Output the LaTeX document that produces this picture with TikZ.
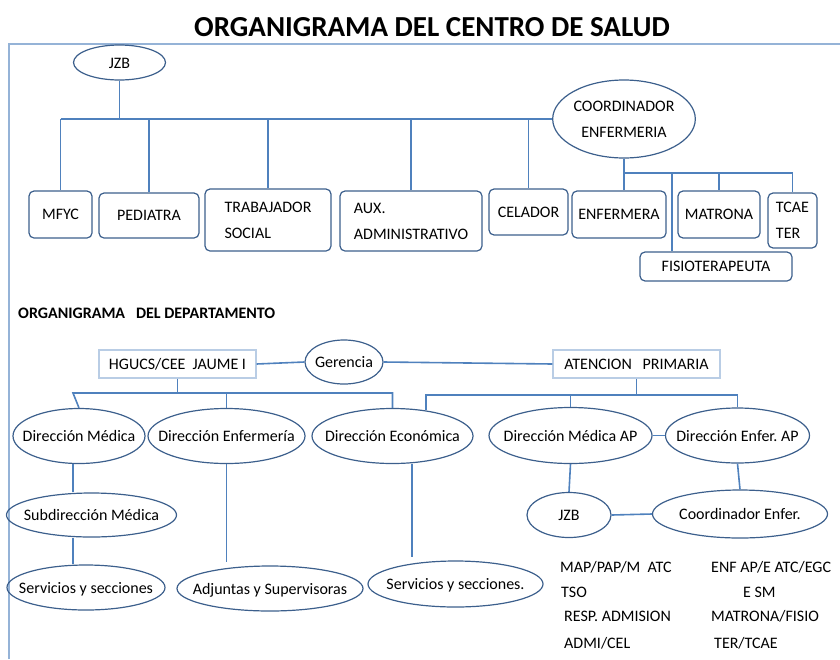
\documentclass[tikz,border=0pt]{standalone}
\usepackage{fontspec}
\setmainfont{Carlito}
\usetikzlibrary{shapes.geometric}
\definecolor{linea}{RGB}{79,129,189}
\definecolor{borde}{RGB}{60,95,140}
\definecolor{marco}{RGB}{149,179,215}
\definecolor{marcoclaro}{RGB}{185,205,229}
\newcommand{\tx}[1]{\makebox[0pt]{#1}}

\begin{document}
\begin{tikzpicture}[x=1pt, y=-1pt,
  caja/.style={rectangle, rounded corners=5pt, draw=borde, line width=1.2pt, inner sep=0pt, align=left, font=\fontsize{16}{26}\selectfont},
  elipse/.style={ellipse, draw=borde, line width=1.2pt, inner sep=0pt, text height=11pt, text depth=0pt, font=\fontsize{16}{19}\selectfont},
  recuadro/.style={rectangle, draw=marcoclaro, line width=1.2pt, inner sep=0pt, font=\fontsize{16}{19}\selectfont},
  texto/.style={anchor=base west, inner sep=0pt, font=\fontsize{16}{19}\selectfont},
  conector/.style={draw=linea, line width=1.6pt}]
  \useasboundingbox (0,0) rectangle (840,659);

  % titulos y marco
  \draw (432,36) node[anchor=base, inner sep=0pt, font=\fontsize{29}{34}\bfseries] (titulo) {ORGANIGRAMA DEL CENTRO DE SALUD};
  \draw (18,318) node[anchor=base west, inner sep=0pt, font=\fontsize{16}{19}\bfseries] (subtitulo) {ORGANIGRAMA\ \ \ DEL DEPARTAMENTO};
  \draw[marco, line width=1.2pt] (9,659) -- (9,44) -- (840,44);

  % centro de salud
  \coordinate (bus1) at (0,119);
  \coordinate (bus2) at (0,173);
  \draw (119.5,62.5) node[elipse, minimum width=92pt, minimum height=35pt] (jzb) {\tx{JZB}};
  \draw (624,119) node[elipse, minimum width=142pt, minimum height=78pt, text height=, text depth=, align=center, font=\fontsize{16}{26}\selectfont] (coord) {COORDINADOR\\ENFERMERIA};
  \draw (60.5,214.5) node[caja, minimum width=63pt, minimum height=47pt] (mfyc) {MFYC};
  \draw (149,215.5) node[caja, minimum width=100pt, minimum height=45pt] (ped) {PEDIATRA};
  \draw (268,220) node[caja, minimum width=126pt, minimum height=62pt] (trab) {TRABAJADOR\\SOCIAL};
  \draw (411,221) node[caja, minimum width=142pt, minimum height=60pt] (aux) {AUX.\\ADMINISTRATIVO};
  \draw (528.5,212) node[caja, minimum width=79pt, minimum height=46pt] (cel) {CELADOR};
  \draw (619,214.5) node[caja, minimum width=94pt, minimum height=47pt] (enf) {ENFERMERA};
  \draw (719,214.5) node[caja, minimum width=82pt, minimum height=47pt] (matr) {MATRONA};
  \draw (792.5,220.5) node[caja, minimum width=49pt, minimum height=55pt] (tcae) {TCAE\\TER};
  \draw (716,266.5) node[caja, minimum width=152pt, minimum height=29pt] (fisio) {FISIOTERAPEUTA};

  \draw[conector] (jzb.south) -- (jzb.south |- bus1);
  \draw[conector] (mfyc.north |- bus1) -- (coord.west);
  \foreach \n in {mfyc,ped,trab,aux,cel}
    \draw[conector] (\n.north |- bus1) -- (\n.north);
  \draw[conector] (coord.south) -- (coord.south |- enf.north);
  \draw[conector] (coord.south |- bus2) -- (tcae.north |- bus2) -- (tcae.north);
  \draw[conector] (matr.north |- bus2) -- (matr.north);
  \draw[conector] ([xshift=-44pt]fisio.north |- bus2) -- ([xshift=-44pt]fisio.north);

  % departamento
  \coordinate (bus3) at (0,393);
  \coordinate (bus4) at (0,395);
  \draw (177.5,364) node[recuadro, minimum width=157pt, minimum height=28pt] (hgucs) {HGUCS/CEE\ \ JAUME I};
  \draw (344,362) node[elipse, minimum width=78pt, minimum height=44pt] (ger) {\tx{Gerencia}};
  \draw (636.5,364) node[recuadro, minimum width=167pt, minimum height=28pt] (ap) {ATENCION\ \ \ PRIMARIA};

  \draw (79,436) node[elipse, minimum width=132pt, minimum height=55pt] (dmed) {\tx{Dirección\ Médica}};
  \draw (226.5,436) node[elipse, minimum width=157pt, minimum height=55pt] (denf) {\tx{Dirección\ Enfermería}};
  \draw (392.5,436) node[elipse, minimum width=161pt, minimum height=55pt] (decon) {\tx{Dirección\ Económica}};
  \draw (570.5,435.5) node[elipse, minimum width=163pt, minimum height=56pt] (dmap) {\tx{Dirección\ Médica AP}};
  \draw (737.5,435.5) node[elipse, minimum width=144pt, minimum height=55pt] (dnap) {\tx{Dirección Enfer.\ AP}};

  \draw (91.5,515) node[elipse, minimum width=170pt, minimum height=44pt] (subdir) {\tx{Subdirección\ Médica}};
  \draw (569,515) node[elipse, minimum width=84pt, minimum height=45pt] (jzbap) {\tx{JZB}};
  \draw (740,514) node[elipse, minimum width=175pt, minimum height=48pt] (coenf) {\tx{Coordinador\ Enfer.}};

  \draw (86,587.5) node[elipse, minimum width=158pt, minimum height=45pt] (serv) {\tx{Servicios\ y\ secciones}};
  \draw (270,588.5) node[elipse, minimum width=186pt, minimum height=45pt] (adj) {\tx{Adjuntas\ y\ Supervisoras}};
  \draw (455.5,584) node[elipse, minimum width=175pt, minimum height=46pt] (serveco) {\tx{Servicios\ y\ secciones.}};

  \draw[conector] (hgucs.east) -- (ger.west);
  \draw[conector] (ger.east) -- (ap.west);
  \draw[conector] (hgucs.south) -- (hgucs.south |- bus3);
  \draw[conector] (dmed.north) -- ([xshift=-6pt]dmed.north |- bus3) -- (decon.north |- bus3) -- (decon.north);
  \draw[conector] (denf.north |- bus3) -- (denf.north);
  \draw[conector] (ap.south) -- (ap.south |- bus4);
  \draw[conector] ([xshift=33.5pt,yshift=-2pt]decon.north) -- ([xshift=33.5pt]decon.north |- bus4) -- (dnap.north |- bus4) -- (dnap.north);
  \draw[conector] (dmap.north |- bus4) -- (dmap.north);
  \draw[conector] (dmap.east) -- (dnap.west);
  \draw[conector] ([xshift=-6pt]dmed.south) -- ([xshift=-18.5pt]subdir.north);
  \draw[conector] ([xshift=-18.5pt]subdir.south) -- ([xshift=-18.5pt]subdir.south |- serv.north);
  \draw[conector] (denf.south) -- ([yshift=3pt]denf.south |- adj.north);
  \draw[conector] ([xshift=19.5pt]decon.south) -- ([xshift=19.5pt,yshift=3pt]decon.south |- serveco.north);
  \draw[conector] (dmap.south) -- (jzbap.north);
  \draw[conector] (dnap.south) -- (coenf.north);
  \draw[conector] (jzbap.east) -- (coenf.west);

  % personal de atencion primaria
  \draw (560,572) node[texto] (t1) {MAP/PAP/M\ \ ATC};
  \draw (561,597) node[texto] (t2) {TSO};
  \draw (564,621) node[texto] (t3) {RESP. ADMISION};
  \draw (564,648) node[texto] (t4) {ADMI/CEL};
  \draw (711,572) node[texto] (t5) {ENF AP/E ATC/EGC};
  \draw (743,597) node[texto] (t6) {E SM};
  \draw (711,621) node[texto] (t7) {MATRONA/FISIO};
  \draw (714,648) node[texto] (t8) {TER/TCAE};
\end{tikzpicture}
\end{document}
